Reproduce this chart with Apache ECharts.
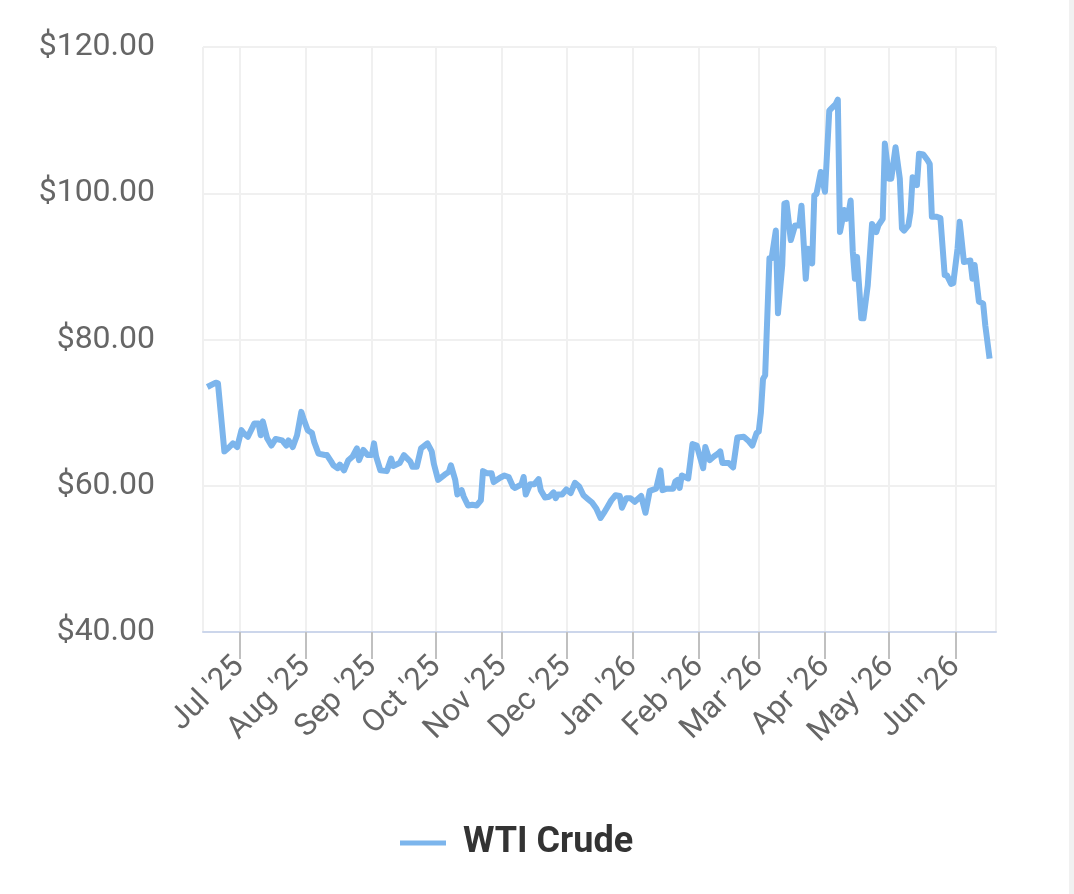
<!DOCTYPE html>
<html>
<head>
<meta charset="utf-8">
<script src="https://cdn.jsdelivr.net/npm/echarts@6/dist/echarts.min.js"></script>
<style>
  html, body { margin: 0; padding: 0; background: #fff; }
  #main { width: 1074px; height: 894px; }
  #edge { position: absolute; right: 0; top: 0; width: 5px; height: 894px; background: #f1f1f1; }
</style>
</head>
<body>
<div id="main"></div>
<div id="edge"></div>
<script>
// WTI crude, daily close
var dates = [
  '2025-06-16', '2025-06-20', '2025-06-21', '2025-06-24', '2025-06-26', '2025-06-28', '2025-06-30',
  '2025-07-02', '2025-07-03', '2025-07-05', '2025-07-08', '2025-07-10', '2025-07-11', '2025-07-12', '2025-07-14',
  '2025-07-16', '2025-07-18', '2025-07-21', '2025-07-23', '2025-07-24', '2025-07-26', '2025-07-28', '2025-07-30', '2025-07-31',
  '2025-08-02', '2025-08-04', '2025-08-05', '2025-08-07', '2025-08-10', '2025-08-11', '2025-08-13', '2025-08-14',
  '2025-08-16', '2025-08-17', '2025-08-19', '2025-08-21', '2025-08-23', '2025-08-25', '2025-08-26', '2025-08-28', '2025-08-30',
  '2025-09-01', '2025-09-02', '2025-09-03', '2025-09-05', '2025-09-08', '2025-09-10', '2025-09-11', '2025-09-14',
  '2025-09-16', '2025-09-19', '2025-09-20', '2025-09-22', '2025-09-24', '2025-09-27', '2025-09-29', '2025-09-30',
  '2025-10-02', '2025-10-05', '2025-10-07', '2025-10-08', '2025-10-10', '2025-10-11', '2025-10-13', '2025-10-14', '2025-10-16',
  '2025-10-18', '2025-10-20', '2025-10-22', '2025-10-23', '2025-10-25', '2025-10-27', '2025-10-28', '2025-10-31',
  '2025-11-02', '2025-11-04', '2025-11-06', '2025-11-07', '2025-11-10', '2025-11-11', '2025-11-12', '2025-11-14', '2025-11-16',
  '2025-11-18', '2025-11-19', '2025-11-21', '2025-11-23', '2025-11-25', '2025-11-26', '2025-11-27', '2025-11-29',
  '2025-12-01', '2025-12-03', '2025-12-05', '2025-12-07', '2025-12-09', '2025-12-11', '2025-12-13', '2025-12-15', '2025-12-17',
  '2025-12-19', '2025-12-20', '2025-12-22', '2025-12-24', '2025-12-26', '2025-12-27', '2025-12-29', '2025-12-31',
  '2026-01-02', '2026-01-05', '2026-01-07', '2026-01-09', '2026-01-12', '2026-01-14', '2026-01-15', '2026-01-17', '2026-01-20',
  '2026-01-21', '2026-01-22', '2026-01-23', '2026-01-24', '2026-01-27', '2026-01-28', '2026-01-29', '2026-01-31',
  '2026-02-03', '2026-02-04', '2026-02-06', '2026-02-08', '2026-02-10', '2026-02-11', '2026-02-12', '2026-02-15',
  '2026-02-17', '2026-02-19', '2026-02-22', '2026-02-24', '2026-02-26', '2026-02-28',
  '2026-03-01', '2026-03-02', '2026-03-03', '2026-03-04', '2026-03-06', '2026-03-07', '2026-03-09', '2026-03-10', '2026-03-12',
  '2026-03-13', '2026-03-14', '2026-03-16', '2026-03-18', '2026-03-20', '2026-03-21', '2026-03-23', '2026-03-24', '2026-03-26',
  '2026-03-27', '2026-03-28', '2026-03-30',
  '2026-04-01', '2026-04-03', '2026-04-04', '2026-04-06', '2026-04-07', '2026-04-08', '2026-04-10', '2026-04-11', '2026-04-12',
  '2026-04-13', '2026-04-14', '2026-04-15', '2026-04-16', '2026-04-18', '2026-04-19', '2026-04-21', '2026-04-23', '2026-04-25',
  '2026-04-26', '2026-04-28', '2026-04-29',
  '2026-05-01', '2026-05-02', '2026-05-04', '2026-05-06', '2026-05-07', '2026-05-08', '2026-05-10', '2026-05-11', '2026-05-12',
  '2026-05-14', '2026-05-15', '2026-05-17', '2026-05-19', '2026-05-20', '2026-05-21', '2026-05-23', '2026-05-25', '2026-05-27',
  '2026-05-28', '2026-05-30', '2026-05-31',
  '2026-06-02', '2026-06-03', '2026-06-05', '2026-06-08', '2026-06-09', '2026-06-10', '2026-06-12', '2026-06-14', '2026-06-15', '2026-06-17'
];

var wtiPrices = [
  73.5, 74.1, 74.0, 64.7, 65.2, 65.8, 65.3,
  67.6, 67.2, 66.7, 68.5, 68.5, 66.9, 68.8, 66.5, 65.5, 66.4, 66.2, 65.5, 66.2, 65.3, 66.9, 70.1, 69.2,
  67.6, 67.2, 66.0, 64.4, 64.2, 64.2, 63.3, 62.8, 62.4, 62.9, 62.1, 63.5, 64.0, 65.1, 63.5, 64.9, 64.2,
  64.2, 65.8, 64.0, 62.1, 62.0, 63.7, 62.7, 63.1, 64.2, 63.3, 62.6, 62.6, 65.1, 65.8, 64.7, 63.0,
  60.8, 61.5, 61.9, 62.8, 60.8, 58.8, 59.4, 58.5, 57.3, 57.4, 57.3, 58.0, 62.0, 61.7, 61.7, 60.5, 61.1,
  61.4, 61.2, 59.9, 59.7, 60.2, 61.2, 58.8, 60.2, 60.2, 60.9, 59.4, 58.4, 58.5, 59.1, 58.3, 58.8, 58.8,
  59.5, 59.0, 60.4, 59.9, 58.7, 58.2, 57.7, 56.9, 55.6, 56.5, 57.0, 58.0, 58.7, 58.6, 57.0, 58.3, 58.3,
  57.8, 58.6, 56.3, 59.3, 59.6, 62.1, 59.4, 59.6, 59.6, 60.6, 60.8, 59.7, 61.4, 61.0, 63.3, 65.7, 65.5,
  62.4, 65.3, 63.5, 64.0, 64.4, 64.7, 63.1, 63.1, 62.5, 66.6, 66.7, 66.2, 65.5, 67.2,
  67.4, 70.0, 74.6, 75.1, 91.1, 91.1, 94.9, 83.6, 90.2, 98.6, 98.7, 93.6, 95.6, 95.6, 98.3, 88.3, 92.4, 90.4, 99.7, 99.9, 102.9,
  100.2, 111.3, 111.6, 112.2, 112.8, 94.7, 97.7, 96.5, 97.2, 99.0, 92.0, 88.3, 91.3, 82.9, 82.9, 87.4, 95.8, 94.7, 95.6, 96.5, 106.8,
  102.0, 102.0, 106.3, 102.0, 95.2, 94.9, 95.6, 97.4, 102.2, 101.1, 105.4, 105.3, 104.5, 104.0, 96.8, 96.8, 96.6, 88.8, 88.8, 87.6, 87.7,
  92.4, 96.1, 90.6, 90.8, 88.3, 90.2, 85.2, 84.9, 81.9, 77.4
];

var monthNames = ['Jan', 'Feb', 'Mar', 'Apr', 'May', 'Jun', 'Jul', 'Aug', 'Sep', 'Oct', 'Nov', 'Dec'];

var chart = echarts.init(document.getElementById('main'));

var seriesData = dates.map(function (d, i) { return [d, wtiPrices[i]]; });

var option = {
    animation: false,
    textStyle: { fontFamily: 'Roboto' },
    grid: { left: 203, right: 78, top: 47, bottom: 262 },
    legend: {
        bottom: 28,
        left: 395,
        icon: 'rect',
        itemWidth: 46,
        itemHeight: 5,
        textStyle: { fontSize: 36, fontWeight: 'bold', color: '#333333', padding: [0, 0, 0, 12] },
        data: ['WTI Crude']
    },
    xAxis: {
        type: 'time',
        min: '2025-06-14',
        max: '2026-06-20',
        minInterval: 28 * 86400000,
        maxInterval: 31 * 86400000,
        axisLine: { lineStyle: { color: '#ccd6eb', width: 2 } },
        axisTick: { show: true, length: 27, lineStyle: { color: '#c0c0c0', width: 2 } },
        splitLine: { show: true, lineStyle: { color: '#f0f0f0', width: 2 } },
        axisLabel: {
            rotate: 45,
            margin: 30,
            fontSize: 31,
            color: '#666666',
            showMinLabel: false,
            showMaxLabel: false,
            formatter: function (value) {
                var d = new Date(value);
                return monthNames[d.getMonth()] + " '" + String(d.getFullYear()).slice(2);
            }
        }
    },
    yAxis: {
        type: 'value',
        min: 40,
        max: 120,
        interval: 20,
        axisLine: { show: false },
        axisTick: { show: false },
        splitLine: { lineStyle: { color: '#f0f0f0', width: 2 } },
        axisLabel: {
            margin: 48,
            fontSize: 32,
            color: '#666666',
            formatter: function (v) { return '$' + v.toFixed(2); }
        }
    },
    series: [
        {
            name: 'WTI Crude',
            type: 'line',
            showSymbol: false,
            symbol: 'none',
            color: '#7cb5ec',
            lineStyle: { width: 6, color: '#7cb5ec', join: 'round' },
            data: seriesData
        }
    ]
};

chart.setOption(option);
</script>
</body>
</html>
